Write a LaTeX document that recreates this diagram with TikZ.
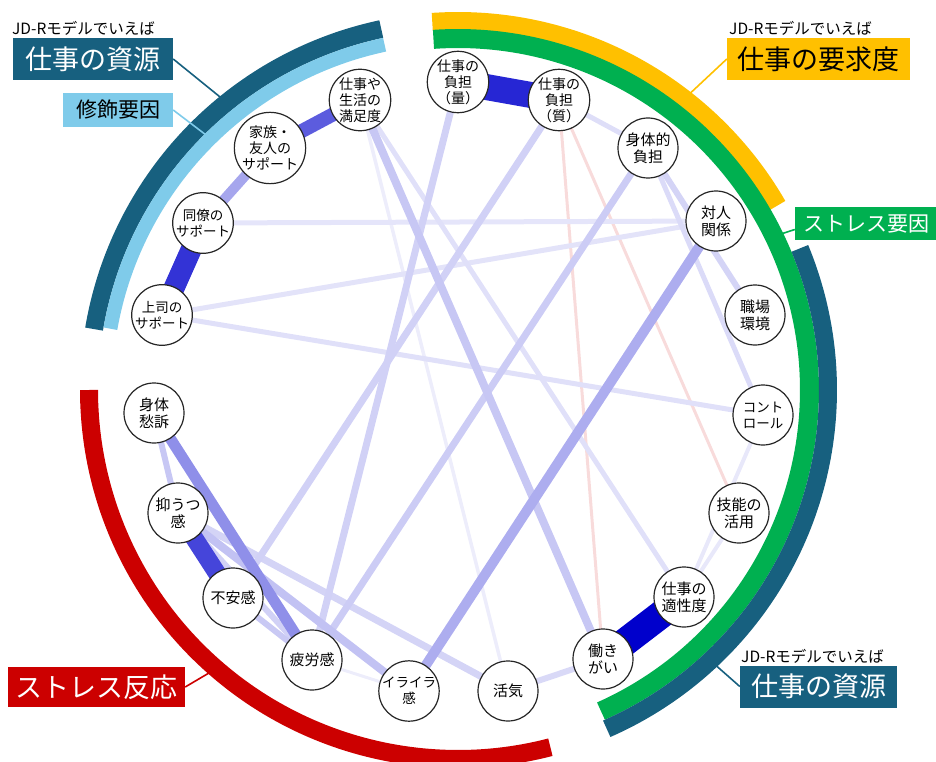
\documentclass[tikz,border=0pt]{standalone}
\usepackage{fontspec}
\setmainfont{Noto Sans CJK JP}
\usetikzlibrary{backgrounds,calc}
\definecolor{jdblue}{HTML}{17607F}
\definecolor{lblue}{HTML}{7FCBEA}
\definecolor{jyellow}{HTML}{FFC000}
\definecolor{jgreen}{HTML}{00B050}
\definecolor{jred}{HTML}{CC0000}
\definecolor{eb}{HTML}{0000CC}
\definecolor{er}{HTML}{CC0000}
\begin{document}
\begin{tikzpicture}[x=1pt,y=-1pt,
  vnode/.style={circle,draw=black!85,line width=1.2pt,fill=white,minimum size=60,inner sep=0pt,align=center,font=\fontsize{15}{17}\selectfont},
  three/.style={font=\fontsize{14}{16}\selectfont},
  kata/.style={font=\fontsize{13.5}{16}\selectfont},
  lk/.style 2 args={draw=#1,line width=#2},
  bigtag/.style={inner sep=0pt,minimum height=42,font=\fontsize{27}{27}\selectfont},
  midtag/.style={inner sep=0pt,font=\fontsize{21}{21}\selectfont},
  jdr/.style={font=\fontsize{15.5}{15.5}\selectfont,inner sep=0pt,anchor=west},
  tagline/.style={line width=1.6}
]
\useasboundingbox (0,0) rectangle (936,762);
\coordinate (C) at (458,390);

% arcs
\draw[jdblue,line width=18,shift={(C)}] plot[domain=-170.5:-102,samples=80] (\x:369);
\draw[lblue,line width=14,shift={(C)}] plot[domain=-170:-102,samples=80] (\x:353);
\draw[jred,line width=18,shift={(C)}] plot[domain=-180:-284.5,samples=100] (\x:369);
\draw[jyellow,line width=18,shift={(C)}] plot[domain=-94:-30,samples=80] (\x:369);
\draw[jgreen,line width=19,shift={(C)}] plot[domain=-94:66,samples=150] (\x:351.5);
\draw[jdblue,line width=18,shift={(C)}] plot[domain=-22.5:66.3,samples=90] (\x:370);

% arc anchor coordinates
\coordinate (a1) at ([shift={(-129:375)}]C);
\coordinate (a2) at ([shift={(-134.6:356)}]C);
\coordinate (a3) at ([shift={(-52:375)}]C);
\coordinate (a4) at ([shift={(-25.8:358)}]C);
\coordinate (a5) at ([shift={(46.9:376)}]C);
\coordinate (a6) at ([shift={(131.2:374)}]C);

% label boxes
\node[jdr] (t1) at (12,28) {JD-Rモデルでいえば};
\node[bigtag,fill=jdblue,text=white,minimum width=160] (L1) at (93,59) {仕事の資源};
\node[midtag,fill=lblue,text=black,minimum width=110,minimum height=34] (L2) at (118,110) {修飾要因};
\node[jdr] (t2) at (729,28) {JD-Rモデルでいえば};
\node[bigtag,fill=jyellow,text=black,minimum width=183] (R1) at (818.5,59) {仕事の要求度};
\node[midtag,fill=jgreen,text=white,minimum width=142,minimum height=33] (R2) at (866,223.5) {ストレス要因};
\node[jdr] (t3) at (741,656) {JD-Rモデルでいえば};
\node[bigtag,fill=jdblue,text=white,minimum width=157] (B1) at (818.5,686.5) {仕事の資源};
\node[bigtag,fill=jred,text=white,minimum width=177,minimum height=40] (S1) at (96.5,687) {ストレス反応};

\draw[tagline,jdblue] (L1.east) -- (a1);
\draw[tagline,lblue] (L2.east) -- (a2);
\draw[tagline,jyellow] (R1.west) -- (a3);
\draw[tagline,jgreen] ([yshift=-6pt]R2.west) -- (a4);
\draw[tagline,jdblue] (B1.west) -- (a5);
\draw[tagline,jred] (S1.east) -- (a6);

% variable nodes
\node[vnode,three] (man) at (360,100) {仕事や\\生活の\\満足度};
\node[vnode,three] (fam) at (270,148) {家族・\\友人の\\サポート};
\node[vnode,kata] (col) at (203,223) {同僚の\\サポート};
\node[vnode,kata] (bos) at (162,315) {上司の\\サポート};
\node[vnode,three] (qty) at (458,82) {仕事の\\負担\\（量）};
\node[vnode,three] (qua) at (559,100) {仕事の\\負担\\（質）};
\node[vnode] (phy) at (648,148) {身体的\\負担};
\node[vnode] (rel) at (716,221) {対人\\関係};
\node[vnode] (env) at (755,315) {職場\\環境};
\node[vnode,kata] (ctl) at (763,415) {コント\\ロール};
\node[vnode] (skl) at (739,513) {技能の\\活用};
\node[vnode] (fit) at (684,597) {仕事の\\適性度};
\node[vnode] (wor) at (603,659) {働き\\がい};
\node[vnode] (vig) at (508,691) {活気};
\node[vnode,kata] (irr) at (409,691) {イライラ\\感};
\node[vnode] (fat) at (312,660) {疲労感};
\node[vnode] (anx) at (233,598) {不安感};
\node[vnode] (dep) at (178,513) {抑うつ\\感};
\node[vnode] (som) at (154,413) {身体\\愁訴};

\begin{scope}[on background layer]
\draw[lk={eb!7}{3.5}] (man.center) -- (vig.center);
\draw[lk={eb!7}{3}] (fat.center) -- (irr.center);
\draw[lk={er!14}{3}] (qua.center) -- (wor.center);
\draw[lk={er!14}{3}] (qua.center) -- (skl.center);
\draw[lk={eb!9}{4}] (ctl.center) -- (fit.center);
\draw[lk={eb!9}{4}] (skl.center) -- (fit.center);
\draw[lk={eb!10}{5}] (col.center) -- (rel.center);
\draw[lk={eb!11}{5}] (bos.center) -- (rel.center);
\draw[lk={eb!12}{5}] (bos.center) -- (ctl.center);
\draw[lk={eb!12}{5}] (man.center) -- (fit.center);
\draw[lk={eb!13}{5}] (qua.center) -- (phy.center);
\draw[lk={eb!14}{5}] (phy.center) -- (ctl.center);
\draw[lk={eb!15}{6}] (vig.center) -- (wor.center);
\draw[lk={eb!17}{6}] (phy.center) -- (env.center);
\draw[lk={eb!17}{7}] (dep.center) -- (vig.center);
\draw[lk={eb!18}{7}] (qty.center) -- (fat.center);
\draw[lk={eb!18}{7}] (qua.center) -- (anx.center);
\draw[lk={eb!18}{6}] (dep.center) -- (fat.center);
\draw[lk={eb!20}{7}] (phy.center) -- (fat.center);
\draw[lk={eb!21}{6}] (anx.center) -- (fat.center);
\draw[lk={eb!22}{8}] (man.center) -- (wor.center);
\draw[lk={eb!22}{6}] (som.center) -- (dep.center);
\draw[lk={eb!24}{8}] (dep.center) -- (irr.center);
\draw[lk={eb!32}{10}] (rel.center) -- (irr.center);
\draw[lk={eb!35}{10}] (col.center) -- (fam.center);
\draw[lk={eb!44}{11}] (som.center) -- (fat.center);
\draw[lk={eb!64}{14}] (fam.center) -- (man.center);
\draw[lk={eb!73}{18}] (dep.center) -- (anx.center);
\draw[lk={eb!80}{21}] (bos.center) -- (col.center);
\draw[lk={eb!85}{26}] (qty.center) -- (qua.center);
\draw[lk={eb}{28}] (fit.center) -- (wor.center);
\end{scope}
\end{tikzpicture}
\end{document}
